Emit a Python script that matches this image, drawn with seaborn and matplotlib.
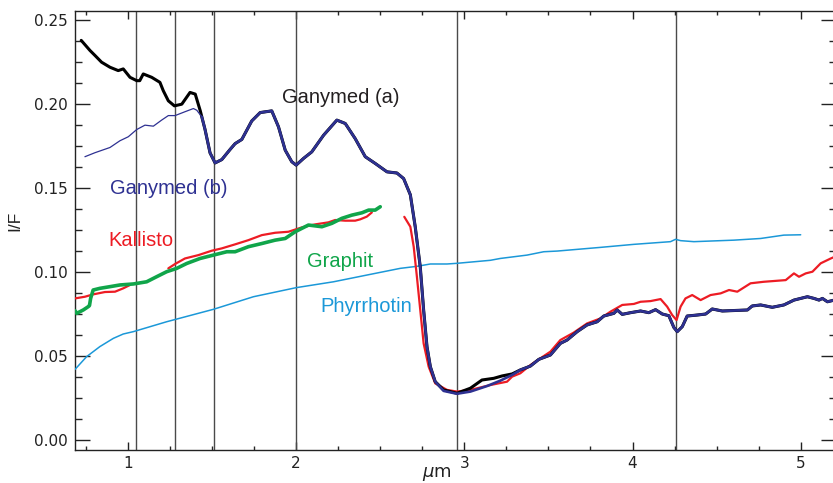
import numpy as np
import pandas as pd
import matplotlib
matplotlib.use("Agg")
import matplotlib.pyplot as plt
from matplotlib.ticker import MultipleLocator, FormatStrFormatter
import seaborn as sns

# --- spectra (wavelength in micrometre, reflectance I/F) ---
ganymed_a_x = [0.722, 0.774, 0.804, 0.843, 0.893, 0.942, 0.972, 1.012, 1.052, 1.07,
               1.091, 1.141, 1.19, 1.21, 1.24, 1.276, 1.32, 1.369, 1.40, 1.43,
               1.458, 1.488, 1.518, 1.558, 1.607, 1.637, 1.677, 1.736, 1.786, 1.855,
               1.895, 1.935, 1.974, 2.0, 2.044, 2.093, 2.163, 2.242, 2.292, 2.351,
               2.411, 2.47, 2.54, 2.599, 2.639, 2.679, 2.708, 2.738, 2.758, 2.778,
               2.798, 2.827, 2.877, 2.956, 3.036, 3.105, 3.175, 3.224, 3.284, 3.333,
               3.393, 3.443, 3.512, 3.571, 3.611, 3.671, 3.73, 3.79, 3.829, 3.889,
               3.909, 3.939, 3.988, 4.048, 4.097, 4.137, 4.177, 4.216, 4.246, 4.266,
               4.296, 4.325, 4.385, 4.435, 4.474, 4.534, 4.683, 4.712, 4.762, 4.831,
               4.9, 4.96, 5.04, 5.079, 5.109, 5.129, 5.159, 5.2]
ganymed_a_y = [0.238, 0.232, 0.229, 0.225, 0.222, 0.220, 0.221, 0.216, 0.214, 0.214,
               0.218, 0.216, 0.213, 0.208, 0.202, 0.199, 0.200, 0.207, 0.206, 0.196,
               0.185, 0.171, 0.165, 0.167, 0.173, 0.1765, 0.179, 0.190, 0.195, 0.196,
               0.1865, 0.1726, 0.1657, 0.1637, 0.1677, 0.1716, 0.1815, 0.1905, 0.1885, 0.1795,
               0.1687, 0.1647, 0.1597, 0.159, 0.1557, 0.146, 0.127, 0.103, 0.0774, 0.0555,
               0.0436, 0.0347, 0.0298, 0.0278, 0.0308, 0.0357, 0.0367, 0.0381, 0.0393, 0.0417,
               0.044, 0.048, 0.0506, 0.0575, 0.0595, 0.0645, 0.0685, 0.0704, 0.0738, 0.0754,
               0.0774, 0.0748, 0.0758, 0.0768, 0.0758, 0.0776, 0.0750, 0.0740, 0.0670, 0.0645,
               0.0675, 0.0738, 0.0744, 0.075, 0.078, 0.0768, 0.0774, 0.0798, 0.0804, 0.079,
               0.0804, 0.0833, 0.0853, 0.0843, 0.0833, 0.0843, 0.0823, 0.0833]

ganymed_b_x = [0.744, 0.804, 0.893, 0.952, 1.002, 1.052, 1.101, 1.151, 1.20, 1.24,
               1.28, 1.339, 1.389, 1.409, 1.439,
               1.458, 1.488, 1.518, 1.558, 1.607, 1.637, 1.677, 1.736, 1.786, 1.855,
               1.895, 1.935, 1.974, 2.0, 2.044, 2.093, 2.163, 2.242, 2.292, 2.351,
               2.411, 2.47, 2.54, 2.599, 2.639, 2.679, 2.708, 2.738, 2.758, 2.778,
               2.798, 2.827, 2.877, 2.956, 3.036, 3.135, 3.214, 3.284, 3.333,
               3.393, 3.443, 3.512, 3.571, 3.611, 3.671, 3.73, 3.79, 3.829, 3.889,
               3.909, 3.939, 3.988, 4.048, 4.097, 4.137, 4.177, 4.216, 4.246, 4.266,
               4.296, 4.325, 4.385, 4.435, 4.474, 4.534, 4.683, 4.712, 4.762, 4.831,
               4.9, 4.96, 5.04, 5.079, 5.109, 5.129, 5.159, 5.2]
ganymed_b_y = [0.1687, 0.1711, 0.1742, 0.1782, 0.1806, 0.1849, 0.1875, 0.1869, 0.1905, 0.1932,
               0.1932, 0.1955, 0.1974, 0.1964, 0.1925,
               0.185, 0.171, 0.165, 0.167, 0.173, 0.1765, 0.179, 0.190, 0.195, 0.196,
               0.1865, 0.1726, 0.1657, 0.1637, 0.1677, 0.1716, 0.1815, 0.1905, 0.1885, 0.1795,
               0.1687, 0.1647, 0.1597, 0.159, 0.1557, 0.146, 0.127, 0.103, 0.0774, 0.0555,
               0.0436, 0.0347, 0.0292, 0.0275, 0.0288, 0.0321, 0.0353, 0.0387, 0.0417,
               0.044, 0.048, 0.0506, 0.0575, 0.0595, 0.0645, 0.0685, 0.0704, 0.0738, 0.0754,
               0.0774, 0.0748, 0.0758, 0.0768, 0.0758, 0.0776, 0.0750, 0.0740, 0.0670, 0.0645,
               0.0675, 0.0738, 0.0744, 0.075, 0.078, 0.0768, 0.0774, 0.0798, 0.0804, 0.079,
               0.0804, 0.0833, 0.0853, 0.0843, 0.0833, 0.0843, 0.0823, 0.0833]

kallisto_vis_x = [0.685, 0.744, 0.793, 0.863, 0.923, 0.972, 1.012]
kallisto_vis_y = [0.0843, 0.0853, 0.0867, 0.0881, 0.0883, 0.0903, 0.0923]
kallisto_nir_x = [1.24, 1.28, 1.339, 1.419, 1.498, 1.558, 1.637, 1.716, 1.796, 1.875,
                  1.954, 2.034, 2.113, 2.192, 2.232, 2.292, 2.351, 2.381, 2.42, 2.45]
kallisto_nir_y = [0.1022, 0.1048, 0.1081, 0.1101, 0.1127, 0.1141, 0.1165, 0.119, 0.122, 0.1234,
                  0.124, 0.1266, 0.1284, 0.1296, 0.131, 0.1306, 0.1306, 0.1314, 0.133, 0.1355]
kallisto_ir_x = [2.643, 2.679, 2.699, 2.718, 2.738, 2.758, 2.788, 2.827, 2.897, 2.956,
                 3.036, 3.155, 3.254, 3.284, 3.333, 3.393, 3.452, 3.512, 3.571, 3.65,
                 3.73, 3.81, 3.869, 3.939, 4.008, 4.048, 4.107, 4.167, 4.206, 4.236,
                 4.262, 4.286, 4.315, 4.355, 4.405, 4.464, 4.524, 4.574, 4.623, 4.702,
                 4.78, 4.911, 4.96, 4.99, 5.03, 5.07, 5.119, 5.179, 5.2]
kallisto_ir_y = [0.1329, 0.127, 0.1151, 0.0972, 0.0774, 0.0575, 0.0436, 0.0337, 0.0298, 0.0288,
                 0.0298, 0.0327, 0.0347, 0.0377, 0.0397, 0.0446, 0.0486, 0.0526, 0.0595, 0.0639,
                 0.0694, 0.0724, 0.0764, 0.0804, 0.081, 0.0823, 0.0827, 0.0839, 0.0794, 0.0744,
                 0.0714, 0.0794, 0.0843, 0.0863, 0.0833, 0.0863, 0.0873, 0.0893, 0.0883, 0.0933,
                 0.0942, 0.0952, 0.0992, 0.0972, 0.0992, 0.1002, 0.1052, 0.1081, 0.109]

graphit_x = [0.685, 0.695, 0.734, 0.764, 0.771, 0.778, 0.793, 0.833, 0.893, 0.952,
             1.032, 1.111, 1.17, 1.23, 1.29, 1.349, 1.429, 1.508, 1.588, 1.637,
             1.716, 1.796, 1.875, 1.935, 1.994, 2.073, 2.153, 2.212, 2.272, 2.331,
             2.391, 2.431, 2.47, 2.5]
graphit_y = [0.0770, 0.0754, 0.0774, 0.0794, 0.0800, 0.0843, 0.0893, 0.0903, 0.0913, 0.0923,
             0.0929, 0.0942, 0.0972, 0.1002, 0.1022, 0.1051, 0.1081, 0.1101, 0.1121, 0.1121,
             0.1151, 0.117, 0.119, 0.120, 0.124, 0.128, 0.127, 0.129, 0.132, 0.1339,
             0.1353, 0.1369, 0.1369, 0.1389]

phyrrhotin_x = [0.685, 0.754, 0.833, 0.913, 0.972, 1.032, 1.23, 1.508, 1.746, 2.0,
                2.222, 2.42, 2.619, 2.718, 2.798, 2.897, 2.956, 3.155, 3.214, 3.373,
                3.472, 3.552, 3.81, 4.008, 4.226, 4.256, 4.286, 4.365, 4.603, 4.762,
                4.9, 5.0]
phyrrhotin_y = [0.042, 0.0496, 0.0556, 0.0605, 0.0631, 0.0645, 0.0704, 0.0778, 0.0853, 0.0907,
                0.0942, 0.0982, 0.1022, 0.1034, 0.1048, 0.1048, 0.1052, 0.107, 0.1081, 0.1101,
                0.1121, 0.1125, 0.1147, 0.1165, 0.1181, 0.1195, 0.1187, 0.1181, 0.119, 0.12,
                0.122, 0.1222]

# absorption band positions marked by vertical lines
band_positions = [1.05, 1.28, 1.51, 2.0, 2.955, 4.26]

labels = ["Ganymed (a)", "Ganymed (b)", "Kallisto", "Graphit", "Phyrrhotin"]
label_x = [1.917, 0.893, 0.881, 2.064, 2.143]
label_y = [0.2042, 0.150, 0.1185, 0.1061, 0.0794]

C_BLACK = "#000000"
C_NAVY = "#2e3192"
C_RED = "#ed1c24"
C_GREEN = "#10a54a"
C_CYAN = "#1b98d8"
label_colors = ["#231f20", C_NAVY, C_RED, C_GREEN, C_CYAN]

sns.set_style("ticks")
plt.rcParams["font.family"] = ["DejaVu Sans"]

fig = plt.figure(figsize=(8.33, 4.83), dpi=100)
ax = fig.add_axes([75 / 833, 1 - 450 / 483, 761 / 833, 439 / 483])


def draw(x, y, color, lw, z):
    df = pd.DataFrame({"wl": x, "IF": y})
    sns.lineplot(data=df, x="wl", y="IF", ax=ax, color=color, linewidth=lw,
                 estimator=None, sort=False, zorder=z)


for b in band_positions:
    ax.axvline(b, color="#4a4a4a", lw=1.0, zorder=1)

draw(phyrrhotin_x, phyrrhotin_y, C_CYAN, 1.1, 3)
draw(kallisto_vis_x, kallisto_vis_y, C_RED, 1.6, 4)
draw(kallisto_nir_x, kallisto_nir_y, C_RED, 1.6, 4)
draw(graphit_x, graphit_y, C_GREEN, 2.6, 5)
draw(kallisto_ir_x, kallisto_ir_y, C_RED, 1.6, 4)
draw(ganymed_a_x, ganymed_a_y, C_BLACK, 2.2, 6)

gb_x = np.array(ganymed_b_x)
gb_y = np.array(ganymed_b_y)
thin = gb_x <= 1.44
thick = gb_x >= 1.439
draw(gb_x[thin], gb_y[thin], C_NAVY, 0.9, 7)
draw(gb_x[thick], gb_y[thick], C_NAVY, 1.9, 7)

for t, lx, ly, c in zip(labels, label_x, label_y, label_colors):
    ax.text(lx, ly, t, color=c, fontsize=14.5, family="Liberation Sans",
            ha="left", va="center", zorder=10)

ax.set_xlim(0.685, 5.21)
ax.set_ylim(-0.006, 0.2555)
ax.xaxis.set_major_locator(MultipleLocator(1))
ax.xaxis.set_minor_locator(MultipleLocator(0.25))
ax.yaxis.set_major_locator(MultipleLocator(0.05))
ax.yaxis.set_minor_locator(MultipleLocator(0.0125))
ax.yaxis.set_major_formatter(FormatStrFormatter("%.2f"))
ax.tick_params(axis="x", which="major", direction="in", length=5.8, width=1,
               top=True, labelsize=11, colors="#222222", pad=4)
ax.tick_params(axis="x", which="minor", direction="in", length=2.9, width=1, top=True)
ax.tick_params(axis="y", which="major", direction="in", length=10.8, width=1,
               right=True, labelsize=11, colors="#222222", pad=5)
ax.tick_params(axis="y", which="minor", direction="in", length=5, width=1, right=True)
for s in ax.spines.values():
    s.set_color("#222222")
    s.set_linewidth(1.0)

ax.set_xlabel("$\\mu$m", fontsize=13, color="#222222")
ax.xaxis.set_label_coords((437 - 75) / 761, -0.034)
ax.set_ylabel("I/F", fontsize=12.5, color="#222222", family="Liberation Sans")
ax.yaxis.set_label_coords(-(75 - 22) / 761, (450 - 221) / 439)

fig.savefig("out.png", dpi=100)
